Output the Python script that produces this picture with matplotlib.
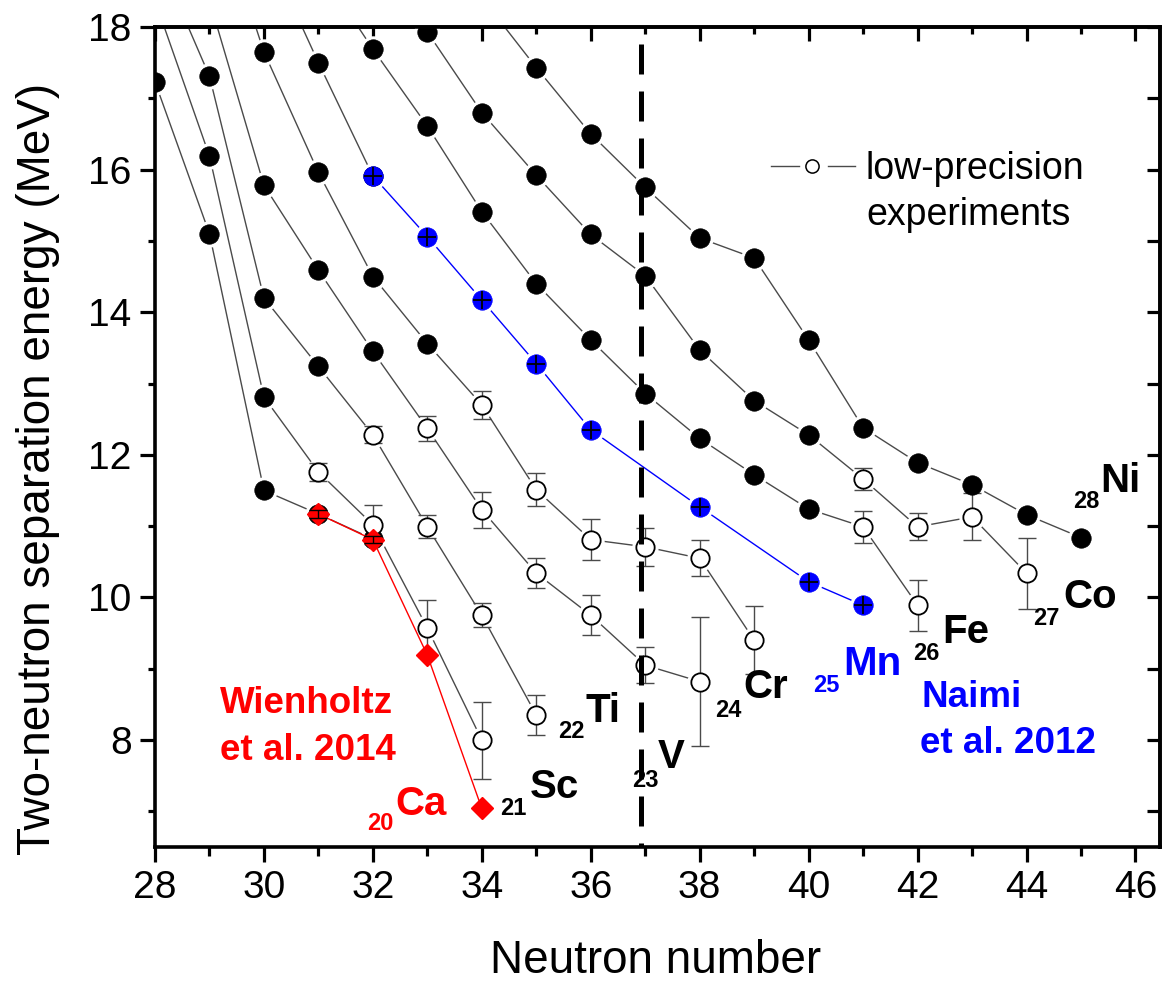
import matplotlib
matplotlib.use('Agg')
import matplotlib.pyplot as plt
from matplotlib.ticker import MultipleLocator, NullFormatter

plt.rcParams['font.family'] = ['Liberation Sans', 'DejaVu Sans']

# ---------------- data (two-neutron separation energies, MeV) ----------------
# error = 0 -> high-precision (filled), error > 0 -> low-precision (open, with error bar)
N_CA = [28, 29, 30, 31, 32]
S_CA = [17.23, 15.10, 11.50, 11.17, 10.82]
E_CA = [0, 0, 0, 0, 0]

N_CA_W = [31, 32, 33, 34]            # Wienholtz et al. 2014
S_CA_W = [11.17, 10.81, 9.19, 7.04]
E_CA_W = [0.05, 0.05, 0, 0]

N_SC = [28, 29, 30, 31, 32, 33, 34]
S_SC = [18.37, 16.19, 12.81, 11.76, 11.02, 9.57, 8.00]
E_SC = [0, 0, 0, 0.13, 0.27, 0.40, 0.54]

N_TI = [28, 29, 30, 31, 32, 33, 34, 35]
S_TI = [19.08, 17.31, 14.20, 13.24, 12.28, 10.99, 9.75, 8.35]
E_TI = [0, 0, 0, 0, 0.12, 0.16, 0.17, 0.28]

N_V = [29, 30, 31, 32, 33, 34, 35, 36, 37, 38]
S_V = [18.37, 15.78, 14.59, 13.45, 12.37, 11.23, 10.34, 9.75, 9.05, 8.82]
E_V = [0, 0, 0, 0, 0.17, 0.25, 0.21, 0.28, 0.25, 0.91]

N_CR = [29, 30, 31, 32, 33, 34, 35, 36, 37, 38, 39]
S_CR = [19.98, 17.65, 15.96, 14.50, 13.56, 12.70, 11.51, 10.81, 10.71, 10.55, 9.40]
E_CR = [0, 0, 0, 0, 0, 0.20, 0.23, 0.29, 0.27, 0.25, 0.48]

N_MN = [30, 31, 32]
S_MN = [19.17, 17.50, 15.91]
E_MN = [0, 0, 0]

N_MN_N = [32, 33, 34, 35, 36, 38, 40, 41]   # Naimi et al. 2012
S_MN_N = [15.91, 15.06, 14.17, 13.28, 12.35, 11.27, 10.22, 9.89]

N_FE = [31, 32, 33, 34, 35, 36, 37, 38, 39, 40, 41, 42]
S_FE = [18.84, 17.69, 16.61, 15.41, 14.40, 13.61, 12.86, 12.23, 11.72, 11.24, 10.99, 9.89]
E_FE = [0, 0, 0, 0, 0, 0, 0, 0, 0, 0, 0.22, 0.36]

N_CO = [32, 33, 34, 35, 36, 37, 38, 39, 40, 41, 42, 43, 44]
S_CO = [19.02, 17.93, 16.80, 15.92, 15.09, 14.51, 13.47, 12.76, 12.28, 11.66, 10.99, 11.13, 10.34]
E_CO = [0, 0, 0, 0, 0, 0, 0, 0, 0, 0.15, 0.19, 0.33, 0.50]

N_NI = [34, 35, 36, 37, 38, 39, 40, 41, 42, 43, 44, 45]
S_NI = [18.41, 17.43, 16.50, 15.75, 15.04, 14.76, 13.61, 12.38, 11.89, 11.58, 11.16, 10.84]
E_NI = [0] * 12

SHELL_N = 36.93      # dashed vertical reference line

LEGEND_LABEL = ['low-precision', 'experiments']

# ---------------- style ----------------
W, H = 1164, 989
AX_L, AX_R, AX_T, AX_B = 155, 1160, 27, 847
GRAY = '#4a4a4a'
MS = 14.0
RED = '#ff0000'
BLUE = '#0000ff'

fig = plt.figure(figsize=(W / 100, H / 100), dpi=100)
ax = fig.add_axes([AX_L / W, 1 - AX_B / H, (AX_R - AX_L) / W, (AX_B - AX_T) / H])


def chain(N, S, E, line_color=GRAY):
    ax.plot(N, S, color=line_color, lw=1.0, zorder=1)
    ax.plot(N, S, ls='none', marker='o', ms=MS + 4, mfc='white', mec='white', zorder=2)
    No = [n for n, e in zip(N, E) if e > 0]
    So = [s for s, e in zip(S, E) if e > 0]
    Eo = [e for e in E if e > 0]
    Nf = [n for n, e in zip(N, E) if e == 0]
    Sf = [s for s, e in zip(S, E) if e == 0]
    if No:
        ax.errorbar(No, So, yerr=Eo, fmt='none', ecolor=GRAY, elinewidth=1.0,
                    capsize=6.5, capthick=1.0, zorder=3)
    ax.plot(Nf, Sf, ls='none', marker='o', ms=MS, mfc='black', mec='black',
            mew=0.5, zorder=4)
    if No:
        ax.plot(No, So, ls='none', marker='o', ms=MS - 0.8, mfc='white', mec='black',
                mew=1.3, zorder=4)


for N, S, E in [(N_CA, S_CA, E_CA), (N_SC, S_SC, E_SC), (N_TI, S_TI, E_TI),
                (N_V, S_V, E_V), (N_CR, S_CR, E_CR), (N_MN, S_MN, E_MN),
                (N_FE, S_FE, E_FE), (N_CO, S_CO, E_CO), (N_NI, S_NI, E_NI)]:
    chain(N, S, E)

# Wienholtz Ca (red diamonds)
ax.plot(N_CA_W, S_CA_W, color=RED, lw=1.0, zorder=4.2)
ax.plot(N_CA_W, S_CA_W, ls='none', marker='D', ms=11.5, mfc=RED, mec=RED, zorder=4.5)
nw = [n for n, e in zip(N_CA_W, E_CA_W) if e > 0]
sw = [s for s, e in zip(S_CA_W, E_CA_W) if e > 0]
ew = [e for e in E_CA_W if e > 0]
ax.errorbar(nw, sw, yerr=ew, fmt='none', ecolor='black', elinewidth=1.0,
            capsize=6.5, capthick=1.0, zorder=4.6)

# Naimi Mn (blue)
ax.plot(N_MN_N, S_MN_N, color=BLUE, lw=1.0, zorder=1.5)
ax.plot(N_MN_N, S_MN_N, ls='none', marker='o', ms=MS + 4, mfc='white', mec='white', zorder=2)
ax.plot(N_MN_N, S_MN_N, ls='none', marker='o', ms=MS, mfc=BLUE, mec=BLUE, mew=0.5, zorder=4.5)
ax.plot(N_MN_N, S_MN_N, ls='none', marker='+', ms=13, mec='black', mew=1.3, zorder=4.6)

# dashed line
ax.plot([SHELL_N, SHELL_N], [18, 6.5], color='black', lw=3.6,
        ls=(6, (6, 3.4)), zorder=6, solid_capstyle='butt', dash_capstyle='butt')

# axes
ax.set_xlim(28, 46.45)
ax.set_ylim(6.5, 18)
ax.xaxis.set_major_locator(MultipleLocator(2))
ax.xaxis.set_minor_locator(MultipleLocator(1))
ax.yaxis.set_major_locator(MultipleLocator(2))
ax.yaxis.set_minor_locator(MultipleLocator(1))
ax.tick_params(axis='both', which='major', direction='out', length=10.8, width=2.3,
               labelsize=28, pad=6, top=False, right=False)
ax.tick_params(axis='x', which='minor', direction='out', length=6.5, width=2.3, top=False)
ax.tick_params(axis='y', which='minor', direction='out', length=5.0, width=2.3, right=False)
for sp in ax.spines.values():
    sp.set_linewidth(2.6)

sx = ax.secondary_xaxis('top')
sx.xaxis.set_major_locator(MultipleLocator(2))
sx.xaxis.set_minor_locator(MultipleLocator(1))
sx.tick_params(axis='x', which='major', direction='in', length=10, width=2.3, labeltop=False)
sx.tick_params(axis='x', which='minor', direction='in', length=5, width=2.3)
sx.xaxis.set_major_formatter(NullFormatter())
sx.spines['top'].set_linewidth(2.6)

sy = ax.secondary_yaxis('right')
sy.yaxis.set_major_locator(MultipleLocator(1))
sy.tick_params(axis='y', which='major', direction='in', length=9.4, width=2.3, labelright=False)
sy.yaxis.set_major_formatter(NullFormatter())
sy.spines['right'].set_linewidth(2.6)


def fx(px):
    return px / W


def fy(py):
    return 1 - py / H


fig.text(fx(38), fy(469), 'Two-neutron separation energy (MeV)', rotation=90,
         ha='center', va='center', fontsize=33)
fig.text(fx(656), fy(961), 'Neutron number', ha='center', va='center', fontsize=33)

# legend (manual)
def axf(px, py):
    return (px - AX_L) / (AX_R - AX_L), (AX_B - py) / (AX_B - AX_T)

lx0, ly = axf(771, 166)
lx1, _ = axf(799, 166)
lx2, _ = axf(828, 166)
lx3, _ = axf(855, 166)
cx, _ = axf(812, 166)
ax.plot([lx0, lx1], [ly, ly], color=GRAY, lw=1.0, transform=ax.transAxes)
ax.plot([lx2, lx3], [ly, ly], color=GRAY, lw=1.0, transform=ax.transAxes)
ax.plot([cx], [ly], marker='o', ms=9.5, mfc='white', mec='black', mew=1.1,
        transform=ax.transAxes)
fig.text(fx(866), fy(178.6), LEGEND_LABEL[0], fontsize=27, ha='left', va='baseline')
fig.text(fx(866), fy(225), LEGEND_LABEL[1], fontsize=27, ha='left', va='baseline')

# element labels: (symbol, Z, sym_left, sym_base, sub_left, sub_base, color)
LABELS = [
    ('Ca', '20', 395, 815, 367, 830, RED),
    ('Sc', '21', 530, 798, 500, 815, 'black'),
    ('Ti', '22', 585, 722, 558, 738, 'black'),
    ('V', '23', 658, 768, 632, 787, 'black'),
    ('Cr', '24', 743, 698, 715, 717, 'black'),
    ('Mn', '25', 843, 675, 813, 692, BLUE),
    ('Fe', '26', 942, 643, 913, 660, 'black'),
    ('Co', '27', 1063, 608, 1033, 625, 'black'),
    ('Ni', '28', 1100, 492, 1073, 508, 'black'),
]
for sym, z, xs, bs, xz, bz, col in LABELS:
    fig.text(fx(xs), fy(bs), sym, fontsize=29, fontweight='bold', color=col,
             ha='left', va='baseline')
    fig.text(fx(xz), fy(bz), z, fontsize=17, fontweight='bold', color=col,
             ha='left', va='baseline')

fig.text(fx(220), fy(713), 'Wienholtz', fontsize=26.5, fontweight='bold', color=RED,
         ha='left', va='baseline')
fig.text(fx(220), fy(760), 'et al. 2014', fontsize=26.5, fontweight='bold', color=RED,
         ha='left', va='baseline')
fig.text(fx(921), fy(707), 'Naimi', fontsize=26.5, fontweight='bold', color=BLUE,
         ha='left', va='baseline')
fig.text(fx(920), fy(753), 'et al. 2012', fontsize=26.5, fontweight='bold', color=BLUE,
         ha='left', va='baseline')

fig.savefig('out.png', dpi=100)
